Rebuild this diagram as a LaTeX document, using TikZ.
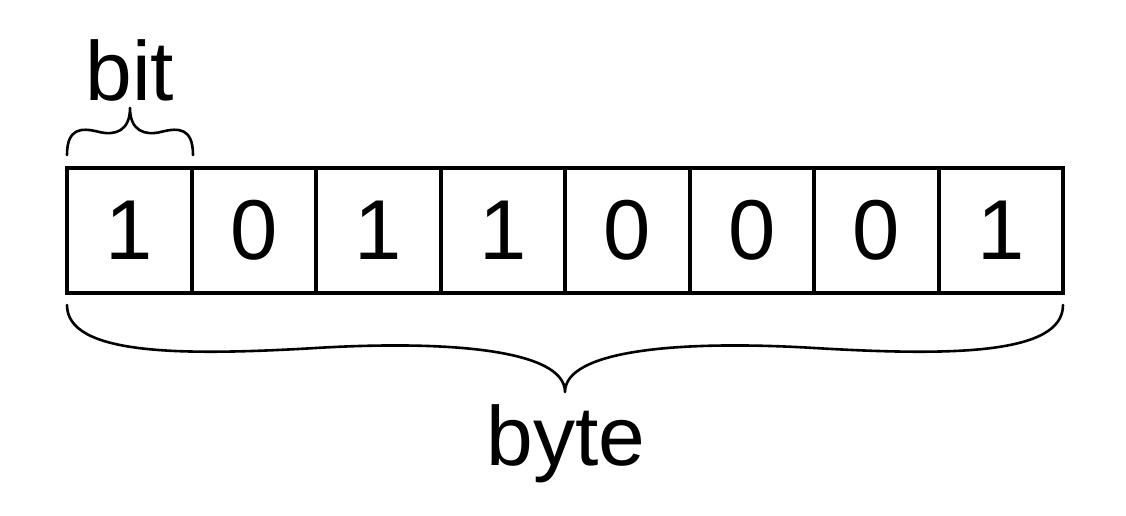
\documentclass[tikz,border=0pt]{standalone}
\usepackage{fontspec}
\setmainfont{Liberation Sans}
\begin{document}
\begin{tikzpicture}[x=1pt,y=-1pt,
  cell/.style={draw=black, line width=4pt, minimum width=124.5pt, minimum height=125pt,
    inner sep=0pt, outer sep=0pt, font=\fontsize{85}{100}\selectfont},
  lbl/.style={anchor=base, inner sep=0pt, font=\fontsize{84}{100}\selectfont},
  bracepath/.style={draw=black, line width=2.6pt, line cap=round, line join=round}]
\useasboundingbox (0,0) rectangle (1126,515);
\foreach \d [count=\i] in {1,0,1,1,0,0,0,1}{
  \node[cell] (c\i) at ({67+62.25+124.5*(\i-1)},230.5) {\d};
}
\node[lbl] (bit) at (130,100) {bit};
\node[lbl] (byte) at (566,465) {byte};
% top brace over first cell
\begin{scope}[shift={(67,155)}, x=63pt, y={(0,47pt)}]
\draw[bracepath] (0,0) .. controls (0,0.575) and (0.227,0.586) .. (0.5,0.494)
  .. controls (0.769,0.402) and (1,0.517) .. (1,1)
  .. controls (1,0.517) and (1.231,0.402) .. (1.5,0.494)
  .. controls (1.773,0.586) and (2,0.575) .. (2,0);
\end{scope}
% bottom brace under the byte
\begin{scope}[shift={(67,305)}, x=498pt, y={(0,-87pt)}]
\draw[bracepath] (0,0) .. controls (0,0.575) and (0.227,0.586) .. (0.5,0.494)
  .. controls (0.769,0.402) and (1,0.517) .. (1,1)
  .. controls (1,0.517) and (1.231,0.402) .. (1.5,0.494)
  .. controls (1.773,0.586) and (2,0.575) .. (2,0);
\end{scope}
\end{tikzpicture}
\end{document}
